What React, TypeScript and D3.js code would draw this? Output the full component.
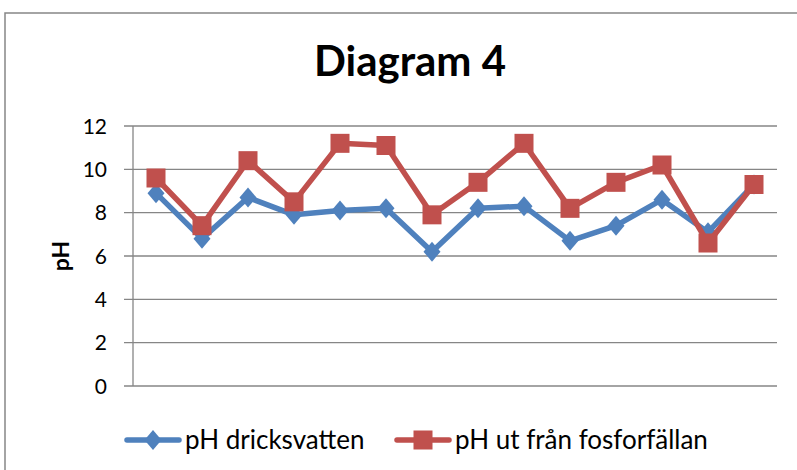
import React from "react";
import * as d3 from "d3";

const categories = ["1","2","3","4","5","6","7","8","9","10","11","12","13","14"];
const drinkingWater = [8.9, 6.8, 8.7, 7.9, 8.1, 8.2, 6.2, 8.2, 8.3, 6.7, 7.4, 8.6, 7.1, 9.3];
const phosphorusTrap = [9.6, 7.4, 10.4, 8.5, 11.2, 11.1, 7.9, 9.4, 11.2, 8.2, 9.4, 10.2, 6.6, 9.3];
const yTicks = [0, 2, 4, 6, 8, 10, 12];
const seriesNames = ["pH dricksvatten", "pH ut från fosforfällan"];

const W = 797, H = 470;
const left = 133, right = 777, top = 126, bottom = 386;
const blue = "#4F81BD", red = "#C0504D", grid = "#868686";
const font = "Lato, 'Open Sans', 'Liberation Sans', sans-serif";

export default function App() {
  const x = d3.scaleBand<string>().domain(categories).range([left, right]);
  const y = d3.scaleLinear().domain([0, 12]).range([bottom, top]);
  const cx = (i: number) => (x(categories[i]) as number) + x.bandwidth() / 2;
  const line = d3.line<number>().x((_, i) => cx(i)).y((v) => y(v));
  const dw = 8.5, dh = 10;
  const diamond = `M0,${-dh}L${dw},0L0,${dh}L${-dw},0Z`;
  const sq = 19;

  return (
    <svg width={W} height={H} style={{ position: "absolute", left: 0, top: 0, background: "#fff" }}>
      <rect x={5} y={13} width={W} height={H} fill="#fff" stroke={grid} strokeWidth={1.5} />
      <text x={410} y={76} textAnchor="middle" fontFamily={font} fontWeight="bold" fontSize={42}>Diagram 4</text>
      {yTicks.map((t) => (
        <g key={t}>
          <line x1={left - 9} x2={right} y1={y(t)} y2={y(t)} stroke={grid} strokeWidth={1.3} />
          <text x={107} y={y(t) + 7.5} textAnchor="end" fontFamily={font} fontSize={21}>{t}</text>
        </g>
      ))}
      <line x1={left} x2={left} y1={top} y2={bottom} stroke={grid} strokeWidth={1.3} />
      <text transform={`translate(69,${(top + bottom) / 2}) rotate(-90)`} textAnchor="middle" fontFamily={font} fontWeight="bold" fontSize={23}>pH</text>
      <path d={line(drinkingWater) ?? ""} fill="none" stroke={blue} strokeWidth={5.5} strokeLinejoin="round" />
      {drinkingWater.map((v, i) => (
        <path key={i} d={diamond} transform={`translate(${cx(i)},${y(v)})`} fill={blue} />
      ))}
      <path d={line(phosphorusTrap) ?? ""} fill="none" stroke={red} strokeWidth={5.5} strokeLinejoin="round" />
      {phosphorusTrap.map((v, i) => (
        <rect key={i} x={cx(i) - sq / 2} y={y(v) - sq / 2} width={sq} height={sq} fill={red} />
      ))}
      <g>
        <line x1={127} x2={179} y1={440} y2={440} stroke={blue} strokeWidth={5.5} strokeLinecap="round" />
        <path d={diamond} transform="translate(153,440)" fill={blue} />
        <text x={185} y={449} fontFamily={font} fontSize={26}>{seriesNames[0]}</text>
        <line x1={397} x2={449} y1={440} y2={440} stroke={red} strokeWidth={5.5} strokeLinecap="round" />
        <rect x={423 - sq / 2} y={440 - sq / 2} width={sq} height={sq} fill={red} />
        <text x={455} y={449} fontFamily={font} fontSize={26}>{seriesNames[1]}</text>
      </g>
    </svg>
  );
}
